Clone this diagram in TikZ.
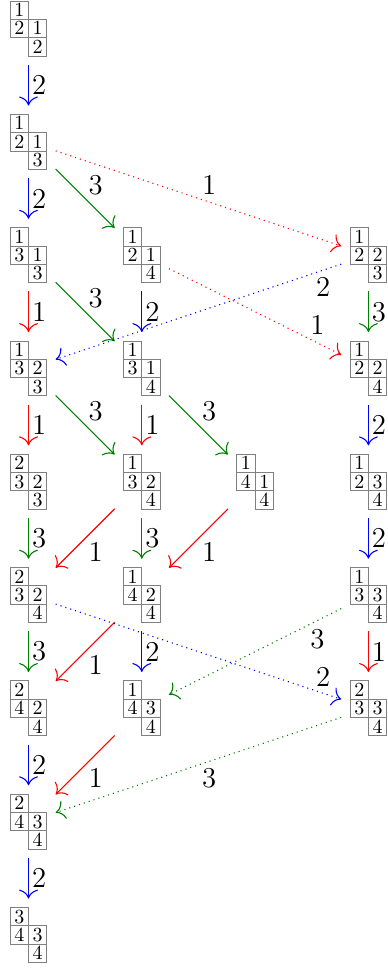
\documentclass[tikz,border=0pt]{standalone}
\usepackage{xcolor}
\usepackage{tikz}
\usetikzlibrary{arrows.meta,positioning}

\newlength\cellsz
\setlength\cellsz{8.7pt}
\newcommand\cell[1]{\fcolorbox{gray}{white}{\makebox[\cellsz]{\rule[-1.13pt]{0pt}{\cellsz}#1}}}
\newcommand\yt[4]{{\fboxsep=0pt\fboxrule=0.45pt%
  \vbox{\offinterlineskip
    \hbox{\cell{#1}}\vskip-\fboxrule
    \hbox{\cell{#2}\kern-\fboxrule\cell{#3}}\vskip-\fboxrule
    \hbox{\kern\dimexpr\cellsz+\fboxrule\relax\cell{#4}}}}}

\begin{document}
\begin{tikzpicture}
  [
    node distance=56.65pt, on grid,
    >={To[scale=1.6]},
    tabl/.style={inner sep=4pt},
    lab/.style={auto,font=\Large,text=black,inner sep=1.5pt},
    one/.style={->,red,line width=0.55pt},
    two/.style={->,blue,line width=0.55pt},
    three/.style={->,green!50!black,line width=0.55pt}
  ]
  \useasboundingbox (-14.25pt,14.25pt) rectangle (179.25pt,-470.25pt);
  % first column
  \node[tabl] (t1212) {\yt{1}{2}{1}{2}};
  \node[tabl] (t1213) [below = of t1212] {\yt{1}{2}{1}{3}};
  \node[tabl] (t1313) [below = of t1213] {\yt{1}{3}{1}{3}};
  \node[tabl] (t1323) [below = of t1313] {\yt{1}{3}{2}{3}};
  \node[tabl] (t2323) [below = of t1323] {\yt{2}{3}{2}{3}};
  \node[tabl] (t2324) [below = of t2323] {\yt{2}{3}{2}{4}};
  \node[tabl] (t2424) [below = of t2324] {\yt{2}{4}{2}{4}};
  \node[tabl] (t2434) [below = of t2424] {\yt{2}{4}{3}{4}};
  \node[tabl] (t3434) [below = of t2434] {\yt{3}{4}{3}{4}};
  % second column
  \node[tabl] (t1214) [right = of t1313] {\yt{1}{2}{1}{4}};
  \node[tabl] (t1314) [below = of t1214] {\yt{1}{3}{1}{4}};
  \node[tabl] (t1324) [below = of t1314] {\yt{1}{3}{2}{4}};
  \node[tabl] (t1424) [below = of t1324] {\yt{1}{4}{2}{4}};
  \node[tabl] (t1434) [below = of t1424] {\yt{1}{4}{3}{4}};
  \node[tabl] (t1414) [right = of t1324] {\yt{1}{4}{1}{4}};
  % last column
  \node[tabl] (t1234) [right = of t1414] {\yt{1}{2}{3}{4}};
  \node[tabl] (t1224) [above = of t1234] {\yt{1}{2}{2}{4}};
  \node[tabl] (t1223) [above = of t1224] {\yt{1}{2}{2}{3}};
  \node[tabl] (t1334) [below = of t1234] {\yt{1}{3}{3}{4}};
  \node[tabl] (t2334) [below = of t1334] {\yt{2}{3}{3}{4}};

  \draw[two] (t1212) -- node[lab] {2} (t1213);
  \draw[two] (t1213) -- node[lab] {2} (t1313);
  \draw[one] (t1313) -- node[lab] {1} (t1323);
  \draw[one] (t1323) -- node[lab] {1} (t2323);
  \draw[three] (t2323) -- node[lab] {3} (t2324);
  \draw[three] (t2324) -- node[lab] {3} (t2424);
  \draw[two] (t2424) -- node[lab] {2} (t2434);
  \draw[two] (t2434) -- node[lab] {2} (t3434);

  \draw[two] (t1214) -- node[lab] {2} (t1314);
  \draw[one] (t1314) -- node[lab] {1} (t1324);
  \draw[three] (t1324) -- node[lab] {3} (t1424);
  \draw[two] (t1424) -- node[lab] {2} (t1434);

  \draw[three] (t1223) -- node[lab] {3} (t1224);
  \draw[two] (t1224) -- node[lab] {2} (t1234);
  \draw[two] (t1234) -- node[lab] {2} (t1334);
  \draw[one] (t1334) -- node[lab] {1} (t2334);

  \draw[three] (t1213) -- node[lab] {3} (t1214);
  \draw[three] (t1313) -- node[lab] {3} (t1314);
  \draw[three] (t1323) -- node[lab] {3} (t1324);
  \draw[three] (t1314) -- node[lab] {3} (t1414);

  \draw[one] (t1324) -- node[lab] {1} (t2324);
  \draw[one] (t1414) -- node[lab] {1} (t1424);
  \draw[one] (t1424) -- node[lab] {1} (t2424);
  \draw[one] (t1434) -- node[lab] {1} (t2434);

  % dotted ones
  \draw[one,dotted] (t1213) -- node[lab] {1} (t1223);
  \draw[one,dotted] (t1214) -- node[lab,pos=0.8] {1} (t1224);
  \draw[two,dotted] (t1223) -- node[lab,pos=0.1] {2} (t1323);
  \draw[two,dotted] (t2324) -- node[lab,pos=0.9] {2} (t2334);
  \draw[three,dotted] (t1334) -- node[lab,pos=0.2] {3} (t1434);
  \draw[three,dotted] (t2334) -- node[lab] {3} (t2434);
\end{tikzpicture}
\end{document}
